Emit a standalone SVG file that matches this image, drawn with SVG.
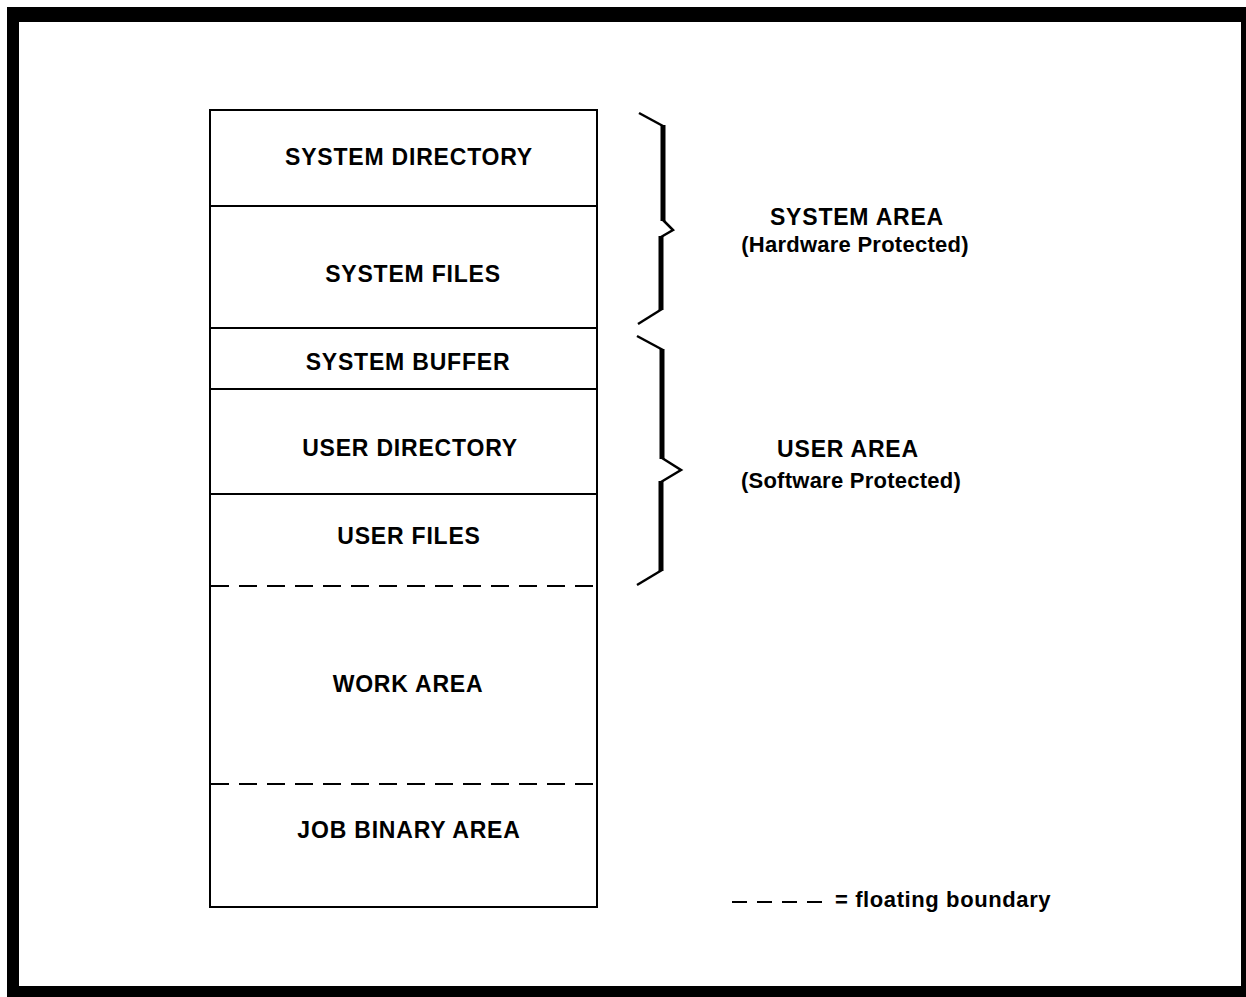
<svg xmlns="http://www.w3.org/2000/svg" width="1246" height="997" viewBox="0 0 1246 997">
<style>
.t{font-family:"Liberation Sans",Arial,sans-serif;font-weight:bold;font-size:23px;letter-spacing:0.8px;fill:#000;text-anchor:middle}
.s{font-size:22px;letter-spacing:0.25px}
.box{fill:none;stroke:#000;stroke-width:2}
.solid{stroke:#000;stroke-width:2}
.dash{stroke:#000;stroke-width:2;stroke-dasharray:18 10}
.thin{fill:none;stroke:#000;stroke-width:2.5;stroke-linejoin:miter}
.thick{fill:none;stroke:#000;stroke-width:5}
</style>
<rect width="1246" height="997" fill="#fff"/>
<path d="M7 7H1246V997H7Z M19 22V986H1241V22Z" fill="#000" fill-rule="evenodd"/>
<g id="memory">
<rect class="box" x="210" y="110" width="387" height="797"/>
</g>
<g id="connectors">
<line class="solid" x1="210" y1="206" x2="597" y2="206"/>
<line class="solid" x1="210" y1="328" x2="597" y2="328"/>
<line class="solid" x1="210" y1="389" x2="597" y2="389"/>
<line class="solid" x1="210" y1="494" x2="597" y2="494"/>
<line class="dash" x1="211" y1="586" x2="597" y2="586"/>
<line class="dash" x1="211" y1="784" x2="597" y2="784"/>
</g>
<g id="system-directory"><text class="t" x="409" y="165">SYSTEM DIRECTORY</text></g>
<g id="system-files"><text class="t" x="413" y="282">SYSTEM FILES</text></g>
<g id="system-buffer"><text class="t" x="408" y="370">SYSTEM BUFFER</text></g>
<g id="user-directory"><text class="t" x="410" y="456">USER DIRECTORY</text></g>
<g id="user-files"><text class="t" x="409" y="544">USER FILES</text></g>
<g id="work-area"><text class="t" x="408" y="692">WORK AREA</text></g>
<g id="job-binary-area"><text class="t" x="409" y="838">JOB BINARY AREA</text></g>
<g id="brace-system">
<polyline class="thin" points="639,113 663,126"/>
<line class="thick" x1="663" y1="125" x2="663" y2="221"/>
<polyline class="thin" points="663,220 673,230 661,237"/>
<line class="thick" x1="661" y1="236" x2="661" y2="310"/>
<polyline class="thin" points="662,309 638,324"/>
</g>
<g id="brace-user">
<polyline class="thin" points="637,336 663,350"/>
<line class="thick" x1="662" y1="349" x2="662" y2="459"/>
<polyline class="thin" points="662,458 681,470 661,482"/>
<line class="thick" x1="661" y1="481" x2="661" y2="571"/>
<polyline class="thin" points="662,570 637,585"/>
</g>
<g id="system-area">
<text class="t" x="857" y="225">SYSTEM AREA</text>
<text class="t s" x="855" y="252">(Hardware Protected)</text>
</g>
<g id="user-area">
<text class="t" x="848" y="457">USER AREA</text>
<text class="t s" x="851" y="488">(Software Protected)</text>
</g>
<g id="legend">
<line class="dash" x1="732" y1="902" x2="822" y2="902" style="stroke-dasharray:15 10"/>
<text class="t" x="835" y="907" style="text-anchor:start;font-size:22px;letter-spacing:0.6px">= floating boundary</text>
</g>
</svg>
